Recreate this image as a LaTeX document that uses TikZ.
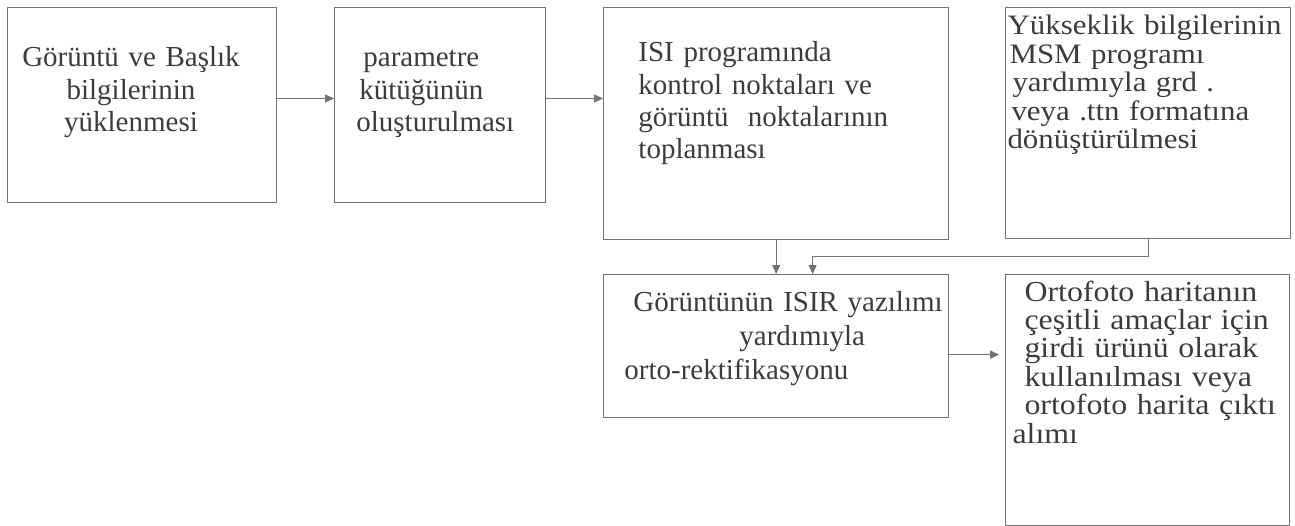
\documentclass[tikz,border=0pt]{standalone}
\usepackage{fontspec}
\setmainfont{Liberation Serif}
\newfontfamily\widefont[FakeStretch=1.1]{Liberation Serif}
\usetikzlibrary{arrows.meta,positioning}
\definecolor{linegray}{RGB}{115,115,115}
\definecolor{textgray}{RGB}{60,60,60}
\tikzset{
  box/.style={rectangle, draw=linegray, line width=0.6pt, inner sep=0pt},
  txt/.style={inner sep=0pt, text=textgray, text width=7.5cm, align=left,
              font=\fontsize{16.5}{18.4}\selectfont},
  txtwide/.style={txt, font=\widefont\fontsize{16.5}{16.2}\selectfont},
  arrow/.style={-{Triangle[length=1.8mm, width=1.6mm]}, line width=0.6pt, linegray},
}

\begin{document}
\begin{tikzpicture}
\useasboundingbox (0,0) rectangle (25.9,-10.52);
% boxes
\node[box, minimum width=5.38cm, minimum height=3.9cm, anchor=north west] (load) at (0.14,-0.14) {};
\node[box, minimum width=4.22cm, minimum height=3.9cm, right=1.14cm of load] (param) {};
\node[box, minimum width=6.9cm, minimum height=4.64cm, right=1.14cm of param.north east, anchor=north west] (isi) {};
\node[box, minimum width=5.7cm, minimum height=4.62cm, right=1.12cm of isi.north east, anchor=north west] (msm) {};
\node[box, minimum width=6.9cm, minimum height=2.86cm, below=0.68cm of isi] (ortho) {};
\node[box, minimum width=5.68cm, minimum height=5.02cm, right=1.12cm of ortho.north east, anchor=north west] (use) {};
% texts
\node[txt, text width=5.2cm, align=center, anchor=base] (loadtxt) at ([xshift=2.48cm, yshift=-1.2cm]load.north west)
  {Görüntü ve Başlık\\ bilgilerinin\\ yüklenmesi};
\node[txt, anchor=base west] (paramtxt) at ([xshift=0.44cm, yshift=-1.2cm]param.north west)
  {\hspace*{0.14cm}parametre\\ \hspace*{0.06cm}kütüğünün\\ oluşturulması};
\node[txt, anchor=base west] (isitxt) at ([xshift=0.7cm, yshift=-1.1cm]isi.north west)
  {ISI programında\\ kontrol noktaları ve\\ görüntü\ \ noktalarının\\ toplanması};
\node[txtwide, anchor=base west, font=\widefont\fontsize{16}{16.2}\selectfont] (msmtxt) at ([xshift=0.04cm, yshift=-0.56cm]msm.north west)
  {Yükseklik bilgilerinin\\ \hspace*{0.04cm}MSM programı\\ \hspace*{0.1cm}yardımıyla grd .\\ \hspace*{0.08cm}veya .ttn formatına\\ dönüştürülmesi};
\node[txt, anchor=base west, font=\fontsize{16.5}{19.5}\selectfont] (orthotxt) at ([xshift=0.42cm, yshift=-0.74cm]ortho.north west)
  {\hspace*{0.18cm}Görüntünün ISIR yazılımı\\ \hspace*{2.3cm}yardımıyla\\ orto-rektifikasyonu};
\node[txtwide, anchor=base west] (usetxt) at ([xshift=0.14cm, yshift=-0.54cm]use.north west)
  {\hspace*{0.24cm}Ortofoto haritanın\\ \hspace*{0.24cm}çeşitli amaçlar için\\ \hspace*{0.24cm}girdi ürünü olarak\\ \hspace*{0.24cm}kullanılması veya\\ \hspace*{0.24cm}ortofoto harita çıktı\\ alımı};
% connectors
\draw[arrow] ([yshift=1.3mm]load.east) -- ([yshift=1.3mm]param.west);
\draw[arrow] ([yshift=1.3mm]param.east) coordinate (p2) -- (p2 -| isi.west);
\draw[arrow] (isi) -- (ortho);
\draw[arrow] (msm.south) -- ++(0,-0.34) -| ([xshift=0.73cm]ortho.north);
\draw[arrow, shorten >=0.12cm] ([yshift=-1.7mm]ortho.east) coordinate (p5) -- (p5 -| use.west);
\end{tikzpicture}
\end{document}
